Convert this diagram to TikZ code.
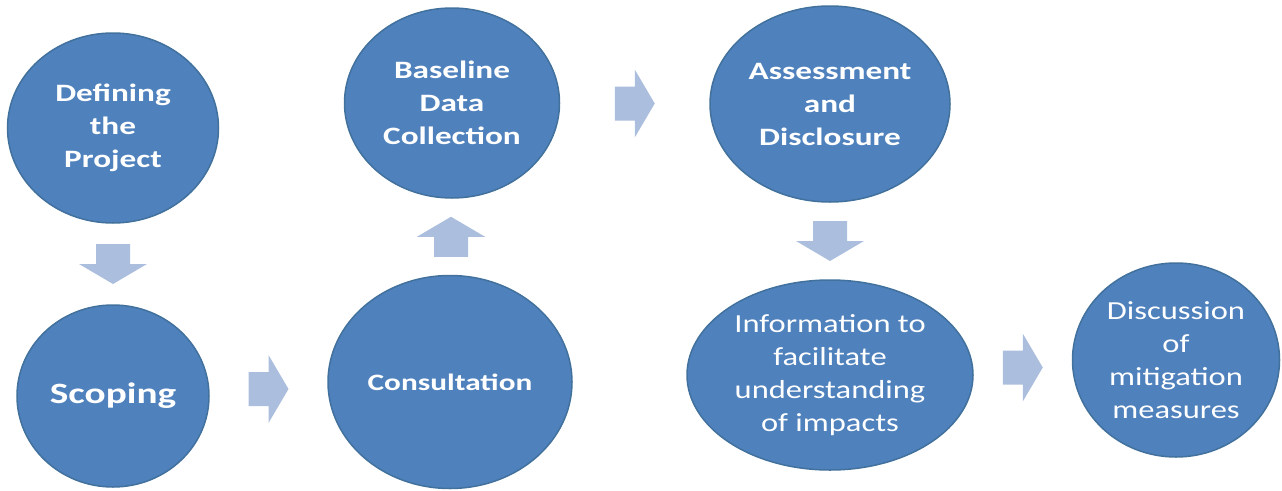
\documentclass[tikz,border=0pt]{standalone}
\usepackage{fontspec}
\newfontfamily\cf{Carlito}[FakeStretch=1.25]
\newfontfamily\cfw{Carlito}[FakeStretch=1.33]
\usetikzlibrary{shapes.geometric,calc}
\definecolor{circfill}{HTML}{4F81BD}
\definecolor{circline}{HTML}{41719C}
\definecolor{arrfill}{HTML}{ABBEDD}
\tikzset{
  stage/.style={ellipse, fill=circfill, draw=circline, line width=1.5pt, inner sep=0pt,
    text=white, align=center, font=\cfw\bfseries\fontsize{25}{33}\selectfont},
  stagereg/.style={stage, font=\cf\fontsize{26}{33}\selectfont},
  blockarrow/.pic={\fill[arrfill] (-20,-17) -- (0,-17) -- (0,-34) -- (20,0) -- (0,34) -- (0,17) -- (-20,17) -- cycle;}
}
\begin{document}
\begin{tikzpicture}[x=1pt,y=-1pt]
\useasboundingbox (0,0) rectangle (1282,490);
\node[stage, minimum width=211pt, minimum height=190pt] (def) at (113,128) {Defining\\the\\Project};
\node[stage, minimum width=192pt, minimum height=182pt, font=\cfw\bfseries\fontsize{29.5}{33}\selectfont] (scp) at (113,396) {Scoping};
\node[stage, minimum width=244pt, minimum height=213pt, font=\cfw\bfseries\fontsize{23.5}{33}\selectfont] (cons) at (450,382) {Consultation};
\node[stage, minimum width=215pt, minimum height=190pt] (base) at (452,103) {Baseline\\Data\\Collection};
\node[stage, minimum width=240pt, minimum height=196pt] (ass) at (830,104) {Assessment\\and\\Disclosure};
\node[stagereg, minimum width=286pt, minimum height=190pt] (info) at (830,375) {Information to\\facilitate\\understanding\\of impacts};
\node[stagereg, minimum width=207pt, minimum height=194pt] (disc) at (1176,360) {Discussion\\of\\mitigation\\measures};
\pic[rotate=-90] at ($(def.south)!0.5!(scp.north)$) {blockarrow};
\pic at ($(scp.east)!0.5!(cons.west)$) {blockarrow};
\pic[rotate=90] at ($(cons.north)!0.5!(base.south)$) {blockarrow};
\pic at ($(base.east)!0.5!(ass.west)$) {blockarrow};
\pic[rotate=-90] at ($(ass.south)!0.5!(info.north)$) {blockarrow};
\pic at ($(info.east)!0.5!(disc.west)$) {blockarrow};
\end{tikzpicture}
\end{document}
